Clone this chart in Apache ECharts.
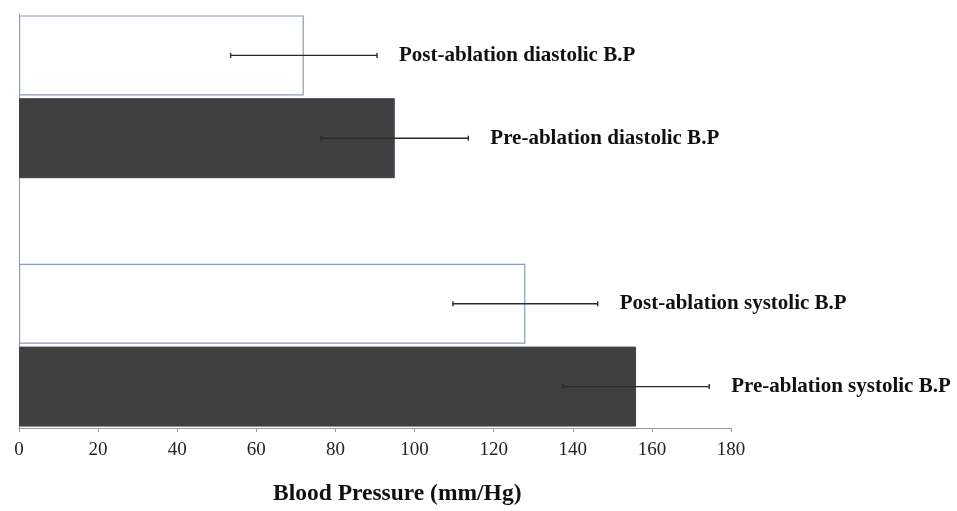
<!DOCTYPE html>
<html>
<head>
<meta charset="utf-8">
<script src="https://cdn.jsdelivr.net/npm/echarts@6/dist/echarts.min.js"></script>
<style>
html,body{margin:0;padding:0;background:#fff;}
#chart{width:957px;height:511px;}
</style>
</head>
<body>
<div id="chart"></div>
<script>
// Categories from bottom to top ('' = empty gap between groups)
var categories = ['Pre-ablation systolic B.P', 'Post-ablation systolic B.P', '', 'Pre-ablation diastolic B.P', 'Post-ablation diastolic B.P'];
var means = [156, 128, null, 95, 72];
var sds = [18.5, 18.3, null, 18.6, 18.5];
var barKinds = ['pre', 'post', null, 'pre', 'post'];
var xTicks = [0, 20, 40, 60, 80, 100, 120, 140, 160, 180];
var xTitle = 'Blood Pressure (mm/Hg)';

var styles = {
  pre: { color: '#404040', borderColor: '#3a4250', borderWidth: 1 },
  post: { color: '#ffffff', borderColor: '#8d9bb3', borderWidth: 1.2 }
};

var barData = means.map(function (v, i) {
  if (v == null) return { value: null };
  return { value: v, itemStyle: styles[barKinds[i]] };
});

var errData = [];
means.forEach(function (v, i) {
  if (v == null) return;
  errData.push([v - sds[i], v + sds[i], i]);
});

var chart = echarts.init(document.getElementById('chart'), null, { renderer: 'canvas' });
chart.setOption({
  animation: false,
  backgroundColor: '#ffffff',
  grid: { left: 19, right: 226, top: 14, bottom: 83, containLabel: false },
  xAxis: {
    type: 'value',
    min: xTicks[0],
    max: xTicks[xTicks.length - 1],
    interval: 20,
    axisLine: { show: true, lineStyle: { color: '#9a9a9a', width: 1 } },
    axisTick: { show: true, length: 4, lineStyle: { color: '#9a9a9a' } },
    splitLine: { show: false },
    axisLabel: {
      color: '#222',
      fontFamily: 'Liberation Serif',
      fontSize: 19,
      margin: 13
    }
  },
  yAxis: {
    type: 'category',
    data: categories,
    axisLine: { show: true, lineStyle: { color: '#9a9a9a', width: 1 } },
    axisTick: { show: false },
    axisLabel: { show: false },
    splitLine: { show: false }
  },
  series: [
    {
      type: 'bar',
      data: barData,
      barWidth: 80
    },
    {
      type: 'custom',
      data: errData,
      encode: { x: [0, 1], y: 2 },
      renderItem: function (params, api) {
        var ci = api.value(2);
        var lo = api.coord([api.value(0), ci]);
        var hi = api.coord([api.value(1), ci]);
        var y = lo[1];
        var cap = 2.5;
        var st = { stroke: '#2a2a2a', lineWidth: 1.4 };
        return {
          type: 'group',
          children: [
            { type: 'line', shape: { x1: lo[0], y1: y, x2: hi[0], y2: y }, style: st },
            { type: 'line', shape: { x1: lo[0], y1: y - cap, x2: lo[0], y2: y + cap }, style: st },
            { type: 'line', shape: { x1: hi[0], y1: y - cap, x2: hi[0], y2: y + cap }, style: st },
            {
              type: 'text',
              x: hi[0] + 22,
              y: y,
              style: {
                text: categories[ci],
                fill: '#111',
                font: 'bold 21px "Liberation Serif"',
                verticalAlign: 'middle',
                align: 'left'
              }
            }
          ]
        };
      },
      z: 5
    }
  ],
  graphic: [
    {
      type: 'text',
      left: 273,
      top: 482,
      style: {
        text: xTitle,
        fill: '#111',
        font: 'bold 23.5px "Liberation Serif"'
      }
    }
  ]
});
</script>
</body>
</html>
